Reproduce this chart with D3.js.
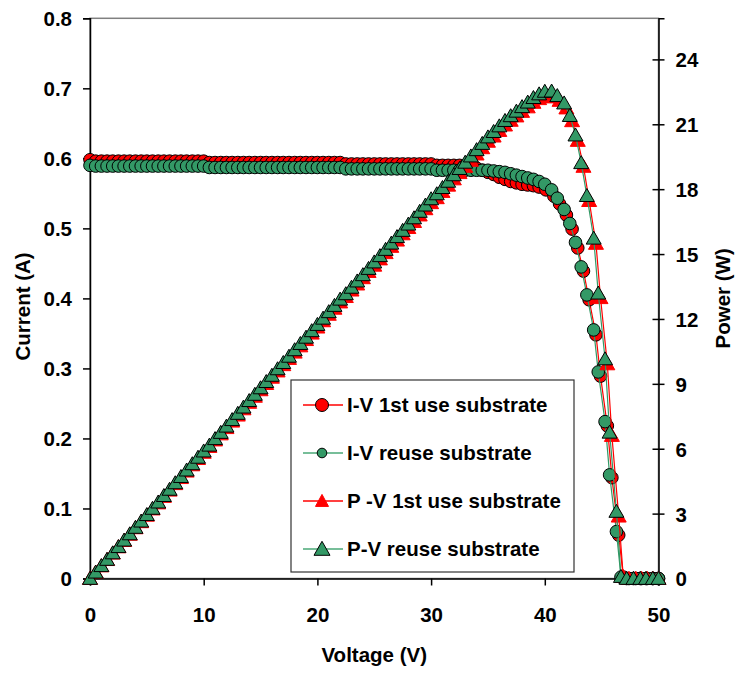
<!DOCTYPE html>
<html>
<head>
<meta charset="utf-8">
<script src="https://cdn.jsdelivr.net/npm/d3@7"></script>
<style>
  body { margin: 0; background: #fff; }
  text { font-family: Arial, "Liberation Sans", sans-serif; font-weight: bold; fill: #000; }
</style>
</head>
<body>
<svg id="chart" width="736" height="673"></svg>
<script>
// ---- data ----
const voltFirst = [
  0, 0.5, 1, 1.5, 2, 2.5, 3, 3.5, 4, 4.5,
  5, 5.5, 6, 6.5, 7, 7.5, 8, 8.5, 9, 9.5,
  10, 10.5, 11, 11.5, 12, 12.5, 13, 13.5, 14, 14.5,
  15, 15.5, 16, 16.5, 17, 17.5, 18, 18.5, 19, 19.5,
  20, 20.5, 21, 21.5, 22, 22.5, 23, 23.5, 24, 24.5,
  25, 25.5, 26, 26.5, 27, 27.5, 28, 28.5, 29, 29.5,
  30, 30.5, 31, 31.5, 32, 32.5, 33, 33.5, 34, 34.5,
  35, 35.5, 36, 36.5, 37, 37.5, 38, 38.5, 39, 39.5,
  40.1, 40.8, 41.3, 41.9, 42.4, 42.9, 43.4, 43.9, 44.5, 44.9,
  45.5, 45.9, 46.5, 46.9, 47.4, 48.0, 48.5, 49.0, 49.5, 50.0
]
const currentFirst = [
  0.598, 0.596, 0.596, 0.596, 0.596, 0.596, 0.596, 0.596, 0.596, 0.596,
  0.596, 0.596, 0.596, 0.596, 0.596, 0.596, 0.596, 0.596, 0.596, 0.596,
  0.596, 0.594, 0.594, 0.594, 0.594, 0.594, 0.594, 0.594, 0.594, 0.594,
  0.594, 0.594, 0.594, 0.594, 0.594, 0.594, 0.594, 0.594, 0.594, 0.594,
  0.594, 0.594, 0.594, 0.594, 0.594, 0.592, 0.592, 0.592, 0.592, 0.592,
  0.592, 0.592, 0.592, 0.592, 0.592, 0.592, 0.592, 0.592, 0.592, 0.592,
  0.592, 0.590, 0.590, 0.590, 0.590, 0.590, 0.590, 0.588, 0.586, 0.583,
  0.580, 0.577, 0.573, 0.570, 0.567, 0.565, 0.563, 0.562, 0.561, 0.559,
  0.555, 0.546, 0.535, 0.519, 0.499, 0.472, 0.439, 0.398, 0.348, 0.289,
  0.218, 0.144, 0.062, 0.002, 0, 0, 0, 0, 0, 0
]
const powerFirst = [
  0, 0.29, 0.58, 0.87, 1.17, 1.46, 1.75, 2.04, 2.34, 2.62,
  2.92, 3.21, 3.49, 3.79, 4.08, 4.38, 4.66, 4.96, 5.25, 5.54,
  5.83, 6.10, 6.40, 6.68, 6.97, 7.27, 7.55, 7.84, 8.14, 8.42,
  8.72, 9.01, 9.30, 9.59, 9.88, 10.17, 10.46, 10.75, 11.04, 11.34,
  11.62, 11.91, 12.21, 12.49, 12.78, 13.03, 13.33, 13.61, 13.90, 14.19,
  14.48, 14.77, 15.06, 15.35, 15.64, 15.93, 16.22, 16.50, 16.80, 17.09,
  17.37, 17.60, 17.89, 18.18, 18.47, 18.76, 19.05, 19.33, 19.62, 19.91,
  20.21, 20.45, 20.71, 20.96, 21.18, 21.38, 21.59, 21.80, 22.01, 22.18,
  22.26, 22.28, 22.10, 21.75, 21.16, 20.25, 19.05, 17.47, 15.49, 12.98,
  9.92, 6.61, 2.88, 0.09, 0, 0, 0, 0, 0, 0
]

const voltReuse = [
  0, 0.5, 1, 1.5, 2, 2.5, 3, 3.5, 4, 4.5,
  5, 5.5, 6, 6.5, 7, 7.5, 8, 8.5, 9, 9.5,
  10, 10.5, 11, 11.5, 12, 12.5, 13, 13.5, 14, 14.5,
  15, 15.5, 16, 16.5, 17, 17.5, 18, 18.5, 19, 19.5,
  20, 20.5, 21, 21.5, 22, 22.5, 23, 23.5, 24, 24.5,
  25, 25.5, 26, 26.5, 27, 27.5, 28, 28.5, 29, 29.5,
  30, 30.5, 31, 31.5, 32, 32.5, 33, 33.5, 34, 34.5,
  35, 35.5, 36, 36.5, 37, 37.5, 38, 38.5, 39, 39.5,
  40.0, 40.6, 41.1, 41.7, 42.2, 42.7, 43.2, 43.7, 44.3, 44.7,
  45.3, 45.7, 46.3, 46.7, 47.2, 47.8, 48.4, 48.9, 49.5, 50.0
]
const currentReuse = [
  0.590, 0.589, 0.589, 0.589, 0.589, 0.589, 0.589, 0.589, 0.589, 0.589,
  0.589, 0.589, 0.589, 0.589, 0.589, 0.589, 0.589, 0.589, 0.589, 0.589,
  0.589, 0.587, 0.587, 0.587, 0.587, 0.587, 0.587, 0.587, 0.587, 0.587,
  0.587, 0.587, 0.587, 0.587, 0.587, 0.587, 0.587, 0.587, 0.587, 0.587,
  0.587, 0.587, 0.587, 0.587, 0.587, 0.585, 0.585, 0.585, 0.585, 0.585,
  0.585, 0.585, 0.585, 0.585, 0.585, 0.585, 0.585, 0.585, 0.585, 0.585,
  0.585, 0.583, 0.583, 0.583, 0.583, 0.583, 0.583, 0.583, 0.583, 0.583,
  0.583, 0.582, 0.581, 0.580, 0.578, 0.576, 0.574, 0.572, 0.570, 0.567,
  0.563, 0.555, 0.543, 0.527, 0.507, 0.480, 0.445, 0.405, 0.355, 0.295,
  0.224, 0.148, 0.067, 0.002, 0, 0, 0, 0, 0, 0
]
const powerReuse = [
  0, 0.29, 0.59, 0.88, 1.18, 1.47, 1.77, 2.06, 2.36, 2.65,
  2.95, 3.24, 3.53, 3.83, 4.12, 4.42, 4.71, 5.01, 5.30, 5.60,
  5.89, 6.16, 6.46, 6.75, 7.04, 7.34, 7.63, 7.92, 8.22, 8.51,
  8.81, 9.10, 9.39, 9.69, 9.98, 10.27, 10.57, 10.86, 11.15, 11.45,
  11.74, 12.03, 12.33, 12.62, 12.91, 13.16, 13.46, 13.75, 14.04, 14.33,
  14.63, 14.92, 15.21, 15.50, 15.80, 16.09, 16.38, 16.67, 16.97, 17.26,
  17.55, 17.78, 18.07, 18.36, 18.66, 18.95, 19.24, 19.53, 19.82, 20.11,
  20.41, 20.66, 20.92, 21.17, 21.39, 21.60, 21.81, 22.02, 22.23, 22.40,
  22.52, 22.53, 22.32, 21.98, 21.40, 20.50, 19.22, 17.70, 15.73, 13.19,
  10.15, 6.76, 3.10, 0.09, 0, 0, 0, 0, 0, 0
]

const voltTicks = [0, 10, 20, 30, 40, 50]
const currentTicks = [0, 0.1, 0.2, 0.3, 0.4, 0.5, 0.6, 0.7, 0.8]
const powerTicks = [0, 3, 6, 9, 12, 15, 18, 21, 24]
const legendLabels = ["I-V 1st use substrate", "I-V reuse substrate", "P -V 1st use substrate", "P-V reuse substrate"]

// ---- layout ----
const dimensions = { left: 90, right: 658.5, top: 18.3, bottom: 578.5 }
const red = "#ff0000"
const green = "#339966"
const fontSize = "20.5px"

const svg = d3.select("#chart")

const xScale = d3.scaleLinear().domain([0, 50]).range([dimensions.left, dimensions.right])
const yCurrent = d3.scaleLinear().domain([0, 0.8]).range([dimensions.bottom, dimensions.top])
const yPower = d3.scaleLinear().domain([0, 25.9]).range([dimensions.bottom, dimensions.top])

// plot area border
svg.append("rect")
  .attr("x", dimensions.left)
  .attr("y", dimensions.top)
  .attr("width", dimensions.right - dimensions.left)
  .attr("height", dimensions.bottom - dimensions.top)
  .attr("fill", "none")
  .attr("stroke", "#808080")
  .attr("stroke-width", 1.5)

// axes
const xAxis = svg.append("g")
  .attr("transform", `translate(0,${dimensions.bottom})`)
  .call(d3.axisBottom(xScale).tickValues(voltTicks).tickSizeOuter(0).tickSize(7).tickFormat(d3.format("d")))
xAxis.selectAll("text").attr("y", 43).attr("dy", 0).style("font-size", fontSize)

const leftAxis = svg.append("g")
  .attr("transform", `translate(${dimensions.left},0)`)
  .call(d3.axisLeft(yCurrent).tickValues(currentTicks).tickSizeOuter(0).tickSize(7)
    .tickFormat(d => d === 0 ? "0" : d3.format(".1f")(d)))
leftAxis.selectAll("text").attr("x", -18).attr("dy", "0.36em").style("font-size", fontSize)

const rightAxis = svg.append("g")
  .attr("transform", `translate(${dimensions.right},0)`)
  .call(d3.axisRight(yPower).tickValues(powerTicks).tickSizeOuter(0).tickSize(6))
rightAxis.selectAll(".tick line").attr("x1", -6).attr("x2", 6)
rightAxis.selectAll("text").attr("x", 17).attr("dy", "0.36em").style("font-size", fontSize)

svg.selectAll(".domain, .tick line").attr("stroke", "#000").attr("stroke-width", 1.5)
svg.selectAll(".tick text").attr("fill", "#000")

// axis titles
svg.append("text")
  .attr("transform", `translate(30,${(dimensions.top + dimensions.bottom) / 2 + 8}) rotate(-90)`)
  .attr("text-anchor", "middle")
  .style("font-size", fontSize)
  .text("Current (A)")
svg.append("text")
  .attr("transform", `translate(730,${(dimensions.top + dimensions.bottom) / 2}) rotate(-90)`)
  .attr("text-anchor", "middle")
  .style("font-size", fontSize)
  .text("Power (W)")
svg.append("text")
  .attr("x", (dimensions.left + dimensions.right) / 2)
  .attr("y", 662)
  .attr("text-anchor", "middle")
  .style("font-size", fontSize)
  .text("Voltage (V)")

// series
const triangle = (w, h) => `M0,${-h * 0.55}L${w / 2},${h * 0.45}L${-w / 2},${h * 0.45}Z`

const series = [
  { volts: voltFirst, values: currentFirst, y: yCurrent, color: red, marker: "circle", fill: red, stroke: "#000" },
  { volts: voltReuse, values: currentReuse, y: yCurrent, color: green, marker: "circle", fill: green, stroke: "#000" },
  { volts: voltFirst, values: powerFirst, y: yPower, color: red, marker: "triangle", fill: red, stroke: red },
  { volts: voltReuse, values: powerReuse, y: yPower, color: green, marker: "triangle", fill: green, stroke: "#000" },
]

series.forEach(s => {
  const points = s.volts.map((v, i) => ({ v: v, val: s.values[i] }))
  svg.append("path")
    .datum(points)
    .attr("fill", "none")
    .attr("stroke", s.color)
    .attr("stroke-width", 1.2)
    .attr("d", d3.line().x(d => xScale(d.v)).y(d => s.y(d.val)))

  const g = svg.append("g")
  if (s.marker === "circle") {
    g.selectAll("circle").data(points).join("circle")
      .attr("cx", d => xScale(d.v))
      .attr("cy", d => s.y(d.val))
      .attr("r", 6.3)
      .attr("fill", s.fill)
      .attr("stroke", s.stroke)
      .attr("stroke-width", 1)
  } else {
    g.selectAll("path").data(points).join("path")
      .attr("transform", d => `translate(${xScale(d.v)},${s.y(d.val)})`)
      .attr("d", triangle(15, 13))
      .attr("fill", s.fill)
      .attr("stroke", s.stroke)
      .attr("stroke-width", 1)
  }
})

// legend
const legend = svg.append("g")
legend.append("rect")
  .attr("x", 291).attr("y", 380).attr("width", 283).attr("height", 192)
  .attr("fill", "#fff").attr("stroke", "#333").attr("stroke-width", 1.2)

const legendStyle = [
  { color: red, shape: "circle", r: 6.5, fill: red, stroke: "#000" },
  { color: "#4aa877", shape: "circle", r: 4.8, fill: green, stroke: "#000" },
  { color: red, shape: "triangle", w: 13, h: 12, fill: red, stroke: red },
  { color: "#4aa877", shape: "triangle", w: 16, h: 14, fill: green, stroke: "#000" },
]
legendLabels.forEach((label, i) => {
  const y = 405 + i * 48
  const st = legendStyle[i]
  legend.append("line")
    .attr("x1", 303).attr("x2", 343).attr("y1", y).attr("y2", y)
    .attr("stroke", st.color).attr("stroke-width", 1.5)
  if (st.shape === "circle") {
    legend.append("circle").attr("cx", 322).attr("cy", y).attr("r", st.r)
      .attr("fill", st.fill).attr("stroke", st.stroke)
  } else {
    legend.append("path").attr("transform", `translate(322,${y})`)
      .attr("d", triangle(st.w, st.h))
      .attr("fill", st.fill).attr("stroke", st.stroke)
  }
  legend.append("text")
    .attr("x", 347).attr("y", y + 7)
    .style("font-size", fontSize)
    .text(label)
})
</script>
</body>
</html>
